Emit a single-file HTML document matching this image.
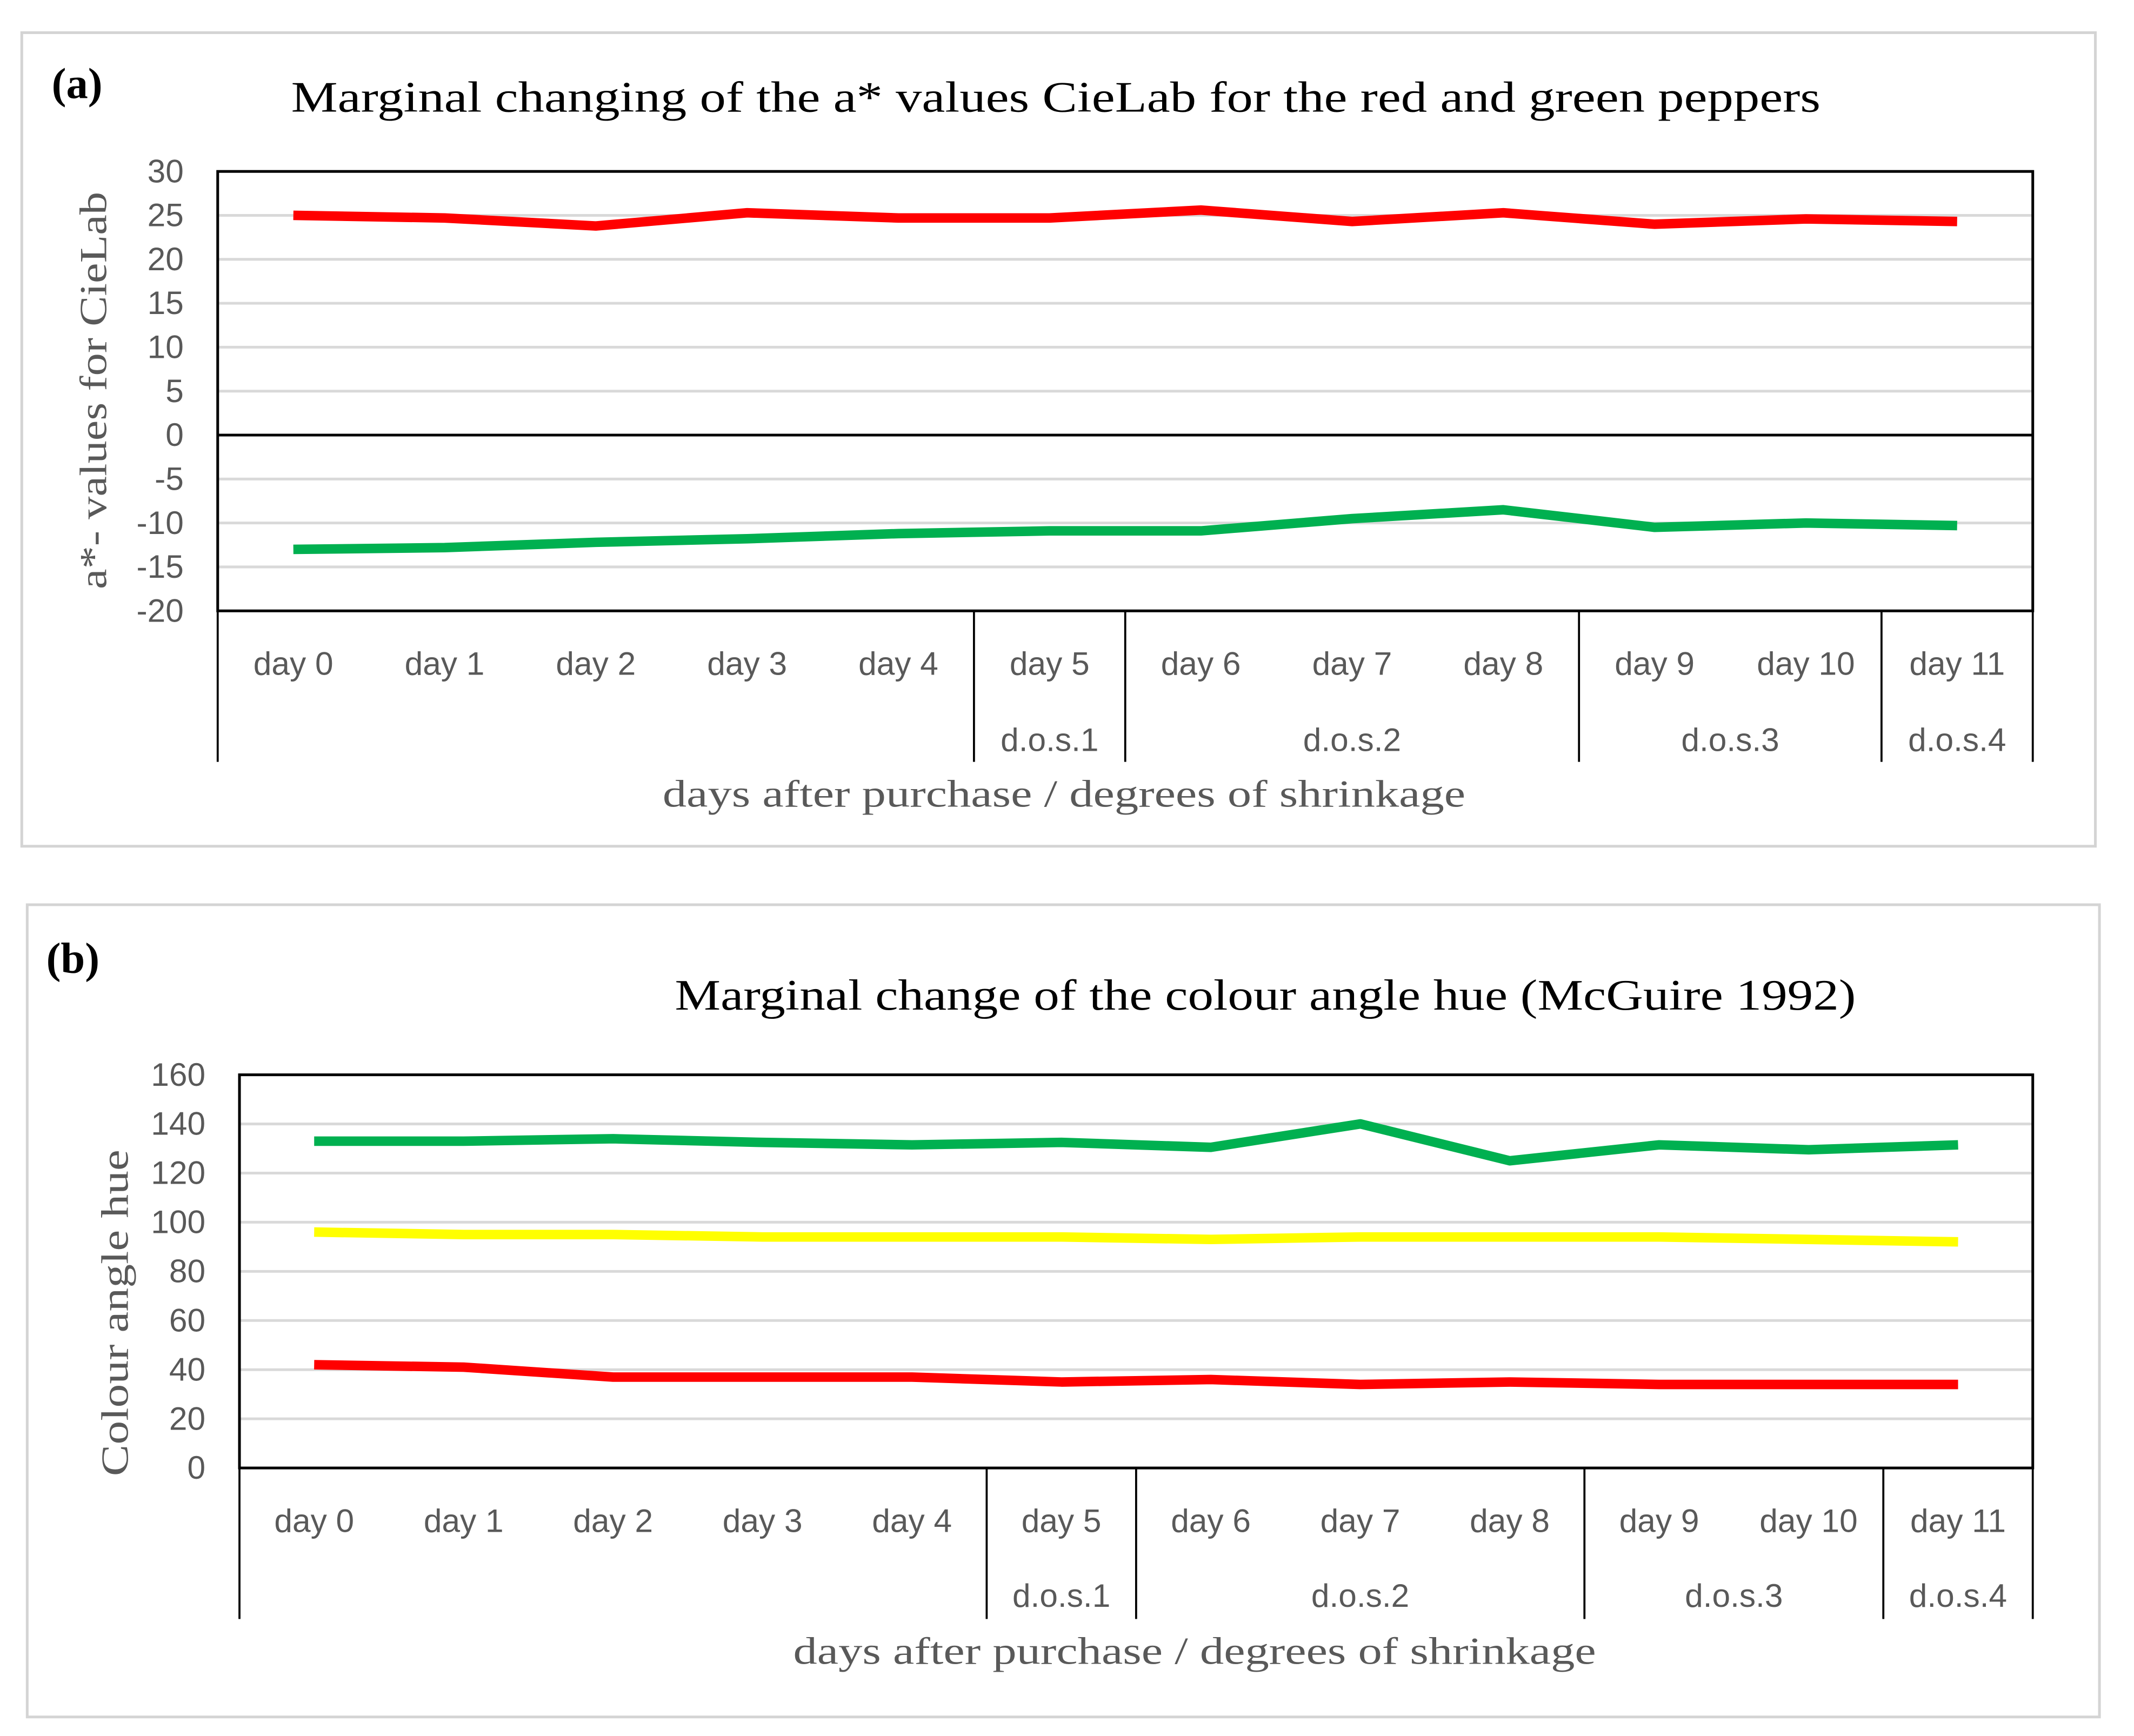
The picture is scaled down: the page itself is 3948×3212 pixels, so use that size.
<!DOCTYPE html>
<html><head><meta charset="utf-8"><style>
html,body{margin:0;padding:0;background:#fff;}
svg{display:block;}
.tick{font-family:"Liberation Sans",sans-serif;font-size:24px;fill:#595959;}
.ttl{font-family:"Liberation Serif",serif;font-size:32px;fill:#000;}
.ax{font-family:"Liberation Serif",serif;font-size:28px;fill:#595959;}
</style></head><body>
<svg id="fig" width="3948" height="3212" viewBox="0 0 1568.4 1276" xmlns="http://www.w3.org/2000/svg">
<rect x="0" y="0" width="1568.4" height="1276" fill="#fff"/>
</svg>
<script>
const categories=["day 0","day 1","day 2","day 3","day 4","day 5","day 6","day 7","day 8","day 9","day 10","day 11"];
const dosLabels=["d.o.s.1","d.o.s.2","d.o.s.3","d.o.s.4"];
const dosStart=[5,6,9,11];
const dosEnd=[6,9,11,12];
const aTicks=[30,25,20,15,10,5,0,-5,-10,-15,-20];
const aRed=[25,24.7,23.8,25.3,24.7,24.7,25.6,24.3,25.3,24,24.6,24.3];
const aGreen=[-13,-12.8,-12.2,-11.8,-11.2,-10.9,-10.9,-9.5,-8.5,-10.5,-10,-10.3];
const bTicks=[160,140,120,100,80,60,40,20,0];
const bGreen=[133,133,134,132.5,131.5,132.5,130.5,140,125,131.5,129.5,131.5];
const bYellow=[96,95,95,94,94,94,93,94,94,94,93,92];
const bRed=[42,41,37,37,37,35,36,34,35,34,34,34];

const NS="http://www.w3.org/2000/svg";
const svg=document.getElementById('fig');
function mk(tag,attrs,parent,text){const e=document.createElementNS(NS,tag);for(const k in attrs)e.setAttribute(k,attrs[k]);if(text!==undefined)e.textContent=text;(parent||svg).appendChild(e);return e;}

function panel(cfg){
  const g=mk('g',{});
  
  
  const fr=mk('rect',{x:cfg.frame[0],y:cfg.frame[1],width:cfg.frame[2]-cfg.frame[0],height:cfg.frame[3]-cfg.frame[1],fill:'none',stroke:'#d4d4d4','stroke-width':2},g);
  
  
  const L=cfg.plot[0],T=cfg.plot[1],R=cfg.plot[2],B=cfg.plot[3];
  const ymin=cfg.ymin,ymax=cfg.ymax;
  const yS=v=>B-(v-ymin)/(ymax-ymin)*(B-T);
  const bw=(R-L)/categories.length;
  const xS=i=>L+bw*(i+0.5);
  cfg.ticks.forEach(t=>{
    const y=yS(t);
    const gl=mk('line',{x1:L,x2:R,y1:y,y2:y,stroke:'#d9d9d9','stroke-width':2},g);
    
    
    const tl=mk('text',{x:L-25,y:y+8,'text-anchor':'end',class:'tick'},g,String(t));
    
    
  });
  const pb=mk('rect',{x:L,y:T,width:R-L,height:B-T,fill:'none',stroke:'#000','stroke-width':2},g);
  
  
  if(ymin<0){const z=mk('line',{x1:L,x2:R,y1:yS(0),y2:yS(0),stroke:'#000','stroke-width':2},g);
    }
  categories.forEach((c,i)=>{
    const t=mk('text',{x:xS(i),y:cfg.dayY,'text-anchor':'middle',class:'tick'},g,c);
    
    
  });
  const seps=[0,5,6,9,11,12];
  seps.forEach(s=>{
    const x=L+bw*s;
    const l=mk('line',{x1:x,x2:x,y1:B,y2:cfg.sepBottom,stroke:'#000','stroke-width':1.5},g);
    
    
  });
  dosLabels.forEach((d,i)=>{
    const x=L+bw*(dosStart[i]+dosEnd[i])/2;
    const t=mk('text',{x:x,y:cfg.dosY,'text-anchor':'middle',class:'tick'},g,d);
    
    
  });
  cfg.series.forEach(s=>{
    const pts=s.data.map((v,i)=>xS(i).toFixed(1)+','+yS(v).toFixed(1)).join(' ');
    const p=mk('polyline',{points:pts,fill:'none',stroke:s.color,'stroke-width':7,'stroke-linejoin':'round'},g);
    
    
  });
  const tt=mk('text',{x:cfg.titleX,y:cfg.titleY,'text-anchor':'middle',class:'ttl',textLength:cfg.titleLen,lengthAdjust:'spacingAndGlyphs'},g,cfg.title);
  
  
  const pl=mk('text',{x:cfg.labX,y:cfg.labY,class:'ttl','font-weight':'bold'},g,cfg.lab);
  
  
  const xt=mk('text',{x:cfg.xtX,y:cfg.xtY,'text-anchor':'middle',class:'ax',textLength:590,lengthAdjust:'spacingAndGlyphs'},g,'days after purchase / degrees of shrinkage');
  
  
  const yt=mk('text',{x:0,y:0,'text-anchor':'middle',class:'ax',textLength:cfg.ytLen,lengthAdjust:'spacingAndGlyphs',transform:`translate(${cfg.ytX},${cfg.ytY}) rotate(-90)`},g,cfg.ytitle);
  
  
}

panel({name:'panel-a',frame:[16,24,1540,622],plot:[160,126,1494,449],ymin:-20,ymax:30,ticks:aTicks,
  dayY:496,dosY:552,sepBottom:560,
  series:[{name:'red-pepper-line',color:'#ff0000',data:aRed},{name:'green-pepper-line',color:'#00b050',data:aGreen}],
  title:'Marginal changing of the a* values CieLab for the red and green peppers',titleX:776,titleY:82,titleLen:1124,
  lab:'(a)',labX:38,labY:72,xtX:782,xtY:593,ytX:78,ytY:287,ytLen:292,ytitle:'a*- values for CieLab'});

panel({name:'panel-b',frame:[20,665,1543,1262],plot:[176,790,1494,1079],ymin:0,ymax:160,ticks:bTicks,
  dayY:1126,dosY:1181,sepBottom:1190,
  series:[{name:'green-pepper-line',color:'#00b050',data:bGreen},{name:'yellow-pepper-line',color:'#ffff00',data:bYellow},{name:'red-pepper-line',color:'#ff0000',data:bRed}],
  title:'Marginal change of the colour angle hue (McGuire 1992)',titleX:930,titleY:742,titleLen:868,
  lab:'(b)',labX:34,labY:715,xtX:878,xtY:1223,ytX:94,ytY:965,ytLen:240,ytitle:'Colour angle hue'});
</script>
</body></html>
